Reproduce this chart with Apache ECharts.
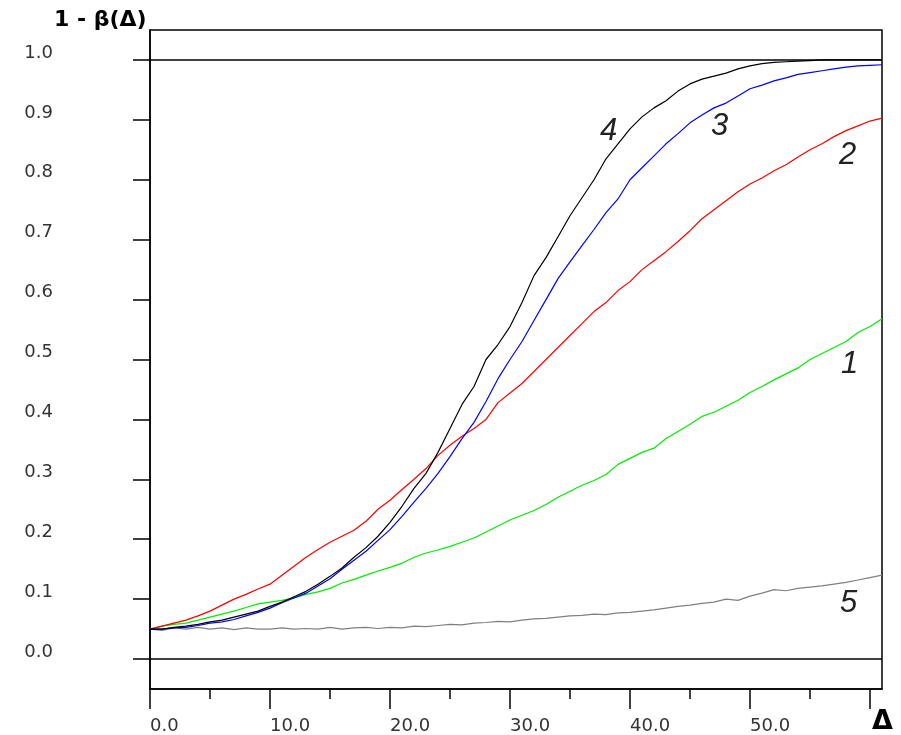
<!DOCTYPE html>
<html>
<head>
<meta charset="utf-8">
<script src="https://cdn.jsdelivr.net/npm/echarts@6/dist/echarts.min.js"></script>
<style>
  html, body { margin: 0; padding: 0; background: #fff; }
  #chart { width: 901px; height: 735px; }
</style>
</head>
<body>
<div id="chart"></div>
<script>
// shift Δ
const delta = [0, 1, 2, 3, 4, 5, 6, 7, 8, 9, 10, 11, 12, 13, 14, 15, 16, 17, 18, 19, 20,
  21, 22, 23, 24, 25, 26, 27, 28, 29, 30, 31, 32, 33, 34, 35, 36, 37, 38, 39, 40,
  41, 42, 43, 44, 45, 46, 47, 48, 49, 50, 51, 52, 53, 54, 55, 56, 57, 58, 59, 60, 61];

// 曲线 1 (绿)
const power1 = [0.05, 0.055, 0.058, 0.06, 0.065, 0.07, 0.075, 0.08, 0.086, 0.092, 0.095,
  0.098, 0.102, 0.108, 0.112, 0.118, 0.127, 0.133, 0.14, 0.147, 0.153,
  0.16, 0.17, 0.177, 0.182, 0.188, 0.195, 0.202, 0.212, 0.222, 0.232,
  0.24, 0.248, 0.258, 0.27, 0.28, 0.29, 0.298, 0.308, 0.325, 0.335,
  0.345, 0.352, 0.368, 0.38, 0.392, 0.405, 0.412, 0.422, 0.432, 0.445,
  0.455, 0.466, 0.476, 0.486, 0.5, 0.51, 0.52, 0.53, 0.545, 0.555, 0.568];

// 曲线 2 (红)
const power2 = [0.05, 0.055, 0.06, 0.065, 0.072, 0.08, 0.09, 0.1, 0.108, 0.117, 0.125,
  0.14, 0.155, 0.17, 0.183, 0.195, 0.205, 0.215, 0.23, 0.25, 0.265,
  0.283, 0.3, 0.318, 0.34, 0.357, 0.372, 0.385, 0.4, 0.428, 0.444,
  0.46, 0.48, 0.5, 0.52, 0.54, 0.56, 0.58, 0.595, 0.615, 0.63,
  0.65, 0.665, 0.68, 0.697, 0.715, 0.735, 0.75, 0.765, 0.78, 0.793,
  0.803, 0.815, 0.825, 0.838, 0.85, 0.86, 0.872, 0.882, 0.89, 0.898, 0.903];

// 曲线 3 (蓝)
const power3 = [0.05, 0.05, 0.052, 0.053, 0.056, 0.06, 0.062, 0.066, 0.072, 0.078, 0.085,
  0.094, 0.102, 0.11, 0.122, 0.134, 0.15, 0.165, 0.18, 0.198, 0.216,
  0.238, 0.262, 0.285, 0.31, 0.338, 0.368, 0.395, 0.43, 0.468, 0.5,
  0.53, 0.565, 0.6, 0.635, 0.663, 0.69, 0.717, 0.745, 0.768, 0.8,
  0.82, 0.84, 0.86, 0.877, 0.895, 0.908, 0.92, 0.928, 0.94, 0.952,
  0.958, 0.965, 0.97, 0.976, 0.979, 0.982, 0.985, 0.988, 0.99, 0.991, 0.992];

// 曲线 4 (黑)
const power4 = [0.05, 0.05, 0.053, 0.055, 0.058, 0.062, 0.065, 0.07, 0.075, 0.08, 0.088,
  0.095, 0.104, 0.113, 0.125, 0.138, 0.152, 0.17, 0.186, 0.205, 0.228,
  0.255, 0.285, 0.31, 0.345, 0.385, 0.425, 0.455, 0.5, 0.525, 0.555,
  0.595, 0.64, 0.67, 0.705, 0.74, 0.77, 0.8, 0.835, 0.86, 0.885,
  0.905, 0.92, 0.932, 0.948, 0.96, 0.968, 0.973, 0.978, 0.985, 0.99,
  0.994, 0.996, 0.997, 0.998, 0.999, 1, 1, 1, 1, 1, 1];

// 曲线 5 (灰)
const power5 = [0.05, 0.048, 0.052, 0.05, 0.053, 0.05, 0.052, 0.049, 0.052, 0.05, 0.05,
  0.052, 0.05, 0.051, 0.05, 0.053, 0.05, 0.052, 0.053, 0.051, 0.053,
  0.052, 0.055, 0.054, 0.056, 0.058, 0.057, 0.06, 0.061, 0.063, 0.062,
  0.065, 0.067, 0.068, 0.07, 0.072, 0.073, 0.075, 0.074, 0.077, 0.078,
  0.08, 0.082, 0.085, 0.088, 0.09, 0.093, 0.095, 0.1, 0.098, 0.105,
  0.11, 0.116, 0.114, 0.118, 0.12, 0.122, 0.125, 0.128, 0.132, 0.136, 0.14];

// 刻度
const yTicks = [0, 0.1, 0.2, 0.3, 0.4, 0.5, 0.6, 0.7, 0.8, 0.9, 1.0];
const xMajorTicks = [0, 10, 20, 30, 40, 50, 60];
const xLabels = [0, 10, 20, 30, 40, 50];
const xMinorTicks = [5, 15, 25, 35, 45, 55];

const curveNames = ['5', '1', '2', '3', '4'];
const curveData = [power5, power1, power2, power3, power4];
const curveColors = ['#808080', '#00ee00', '#ff0000', '#0000ff', '#000000'];

const labelFont = 'DejaVu Sans, Verdana, sans-serif';

let series = curveData.map((arr, k) => ({
  name: curveNames[k],
  type: 'line',
  xAxisIndex: 0,
  showSymbol: false,
  silent: true,
  animation: false,
  lineStyle: { color: curveColors[k], width: 1.2 },
  data: arr.map((v, i) => [delta[i], v])
}));

// 0 和 1 的水平线
series[0].markLine = {
  silent: true,
  symbol: 'none',
  label: { show: false },
  lineStyle: { color: '#000', width: 1.5, type: 'solid' },
  data: [{ yAxis: 0 }, { yAxis: 1 }]
};

// 曲线编号
const tags = [
  { t: '4', x: 600, y: 116 },
  { t: '3', x: 711, y: 111 },
  { t: '2', x: 839, y: 140 },
  { t: '1', x: 841, y: 349 },
  { t: '5', x: 840, y: 588 }
];

const tickStyle = { color: '#000', width: 1.5 };

let chart = echarts.init(document.getElementById('chart'));
chart.setOption({
  backgroundColor: '#fff',
  animation: false,
  grid: {
    left: 150, top: 30, width: 732, height: 660,
    show: true, borderColor: '#000', borderWidth: 1.5,
    containLabel: false
  },
  xAxis: [
    {
      type: 'value', min: 0, max: 61, position: 'bottom',
      axisLine: { show: true, onZero: false, lineStyle: tickStyle },
      splitLine: { show: false },
      axisTick: { show: true, customValues: xMajorTicks, length: 20, lineStyle: tickStyle },
      axisLabel: {
        customValues: xLabels,
        formatter: (v) => v.toFixed(1),
        align: 'left', verticalAlign: 'top', margin: 28,
        fontFamily: labelFont, fontSize: 18, color: '#333'
      }
    },
    {
      type: 'value', min: 0, max: 61, position: 'bottom',
      axisLine: { show: false, onZero: false },
      splitLine: { show: false },
      axisTick: { show: true, customValues: xMinorTicks, length: 10, lineStyle: tickStyle },
      axisLabel: { show: false }
    }
  ],
  yAxis: {
    type: 'value', min: -0.05, max: 1.05,
    axisLine: { show: true, onZero: false, lineStyle: tickStyle },
    splitLine: { show: false },
    axisTick: { show: true, customValues: yTicks, length: 17, lineStyle: tickStyle },
    axisLabel: {
      customValues: yTicks,
      formatter: (v) => v.toFixed(1),
      verticalAlign: 'bottom', lineHeight: 14, margin: 97,
      fontFamily: labelFont, fontSize: 18, color: '#333'
    }
  },
  graphic: [
    {
      type: 'text', left: 54, top: 9,
      style: { text: '1 - β(Δ)', font: 'bold 22px DejaVu Sans, Verdana, sans-serif', fill: '#000' }
    },
    {
      type: 'text', left: 872, top: 708,
      style: { text: 'Δ', font: 'bold 27px DejaVu Sans, Verdana, sans-serif', fill: '#000' }
    }
  ].concat(tags.map((d) => ({
    type: 'text', left: d.x, top: d.y,
    style: { text: d.t, font: 'italic 31px Liberation Sans, Arial, sans-serif', fill: '#222' }
  }))),
  series
});
</script>
</body>
</html>
